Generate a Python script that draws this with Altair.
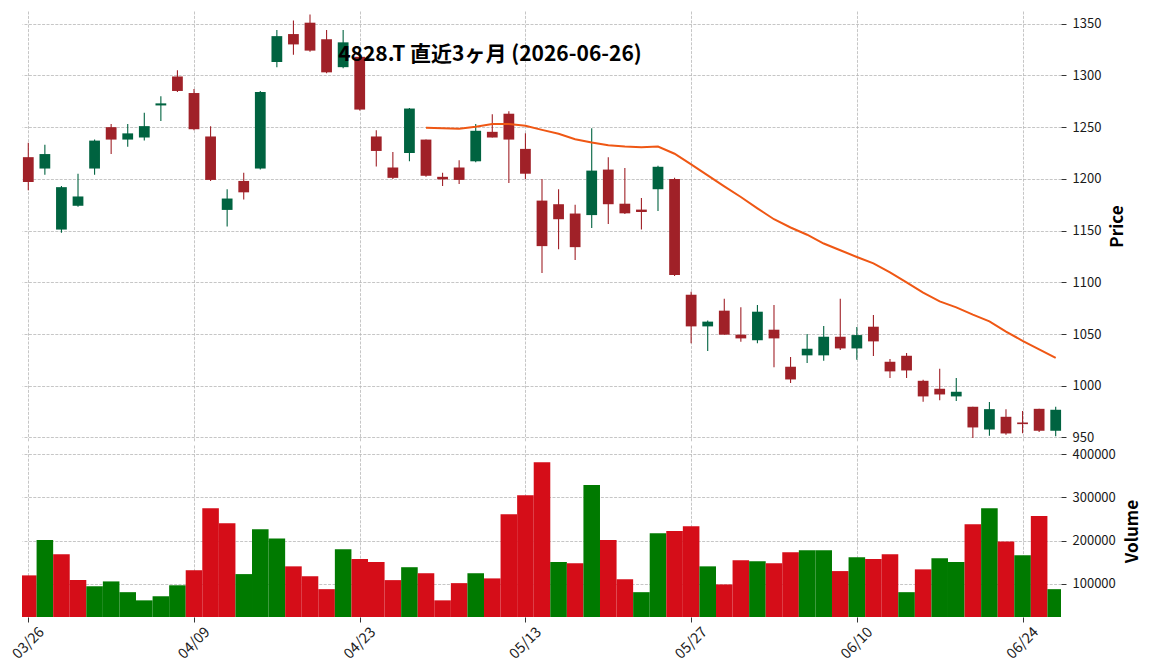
import json
import altair as alt
import pandas as pd

# ---------------- data ----------------
dates = ["03/26", "03/27", "03/30", "03/31", "04/01", "04/02", "04/03", "04/06", "04/07", "04/08",
         "04/09", "04/10", "04/13", "04/14", "04/15", "04/16", "04/17", "04/20", "04/21", "04/22",
         "04/23", "04/24", "04/27", "04/28", "04/30", "05/01", "05/07", "05/08", "05/11", "05/12",
         "05/13", "05/14", "05/15", "05/18", "05/19", "05/20", "05/21", "05/22", "05/25", "05/26",
         "05/27", "05/28", "05/29", "06/01", "06/02", "06/03", "06/04", "06/05", "06/08", "06/09",
         "06/10", "06/11", "06/12", "06/15", "06/16", "06/17", "06/18", "06/19", "06/22", "06/23",
         "06/24", "06/25", "06/26"]

opens = [1221, 1210, 1151, 1174, 1210, 1250, 1238, 1240, 1271, 1299,
         1283, 1241, 1170, 1198, 1210, 1313, 1340, 1351, 1335, 1308,
         1318, 1241, 1211, 1225, 1238, 1202, 1211, 1217, 1245.5, 1263,
         1229, 1179, 1175.5, 1166.5, 1165, 1209, 1176, 1170.3, 1190, 1200,
         1088, 1057.4, 1072.6, 1049.4, 1044, 1054.2, 1018.4, 1029.4, 1029.4, 1047.4,
         1036.1, 1057.1, 1023.2, 1029, 1004.8, 997.1, 989.7, 979.7, 957.7, 970,
         964.5, 977.7, 956.5]
highs = [1235, 1233, 1193, 1205, 1238, 1253, 1253, 1264, 1280, 1305,
         1287, 1251, 1190, 1206, 1285, 1344, 1353, 1359, 1344, 1344,
         1322, 1247, 1226, 1268.5, 1238, 1206, 1218, 1253, 1262.5, 1265.5,
         1244, 1200, 1190, 1175, 1249, 1221, 1210.5, 1181.5, 1212.7, 1201,
         1091, 1063, 1084, 1076, 1078, 1078, 1027.7, 1050, 1057.7, 1084,
         1056.8, 1068.4, 1025.8, 1031.6, 1005.8, 1016.5, 1007.4, 979.7, 984.2, 977.4,
         975.5, 977.7, 979.7]
lows = [1189, 1204, 1148, 1173, 1204, 1224, 1231, 1237, 1256, 1284,
        1247, 1198, 1154, 1180, 1209, 1308, 1320, 1323, 1302, 1307,
        1266, 1212, 1200, 1217, 1202, 1193, 1195, 1216, 1240, 1196,
        1200, 1109, 1132, 1121.5, 1152.5, 1156.5, 1166, 1151, 1169, 1106,
        1041, 1033.5, 1049.4, 1042.6, 1041, 1018, 1002.6, 1022, 1024.2, 1034.5,
        1025.2, 1028.7, 1007.4, 1007.4, 984.5, 986.1, 985.2, 949.4, 951.6, 952.6,
        954.2, 955.2, 951.3]
closes = [1197, 1224, 1192, 1183, 1237, 1238, 1244, 1251, 1273, 1285,
          1248, 1199, 1181, 1187, 1284, 1338, 1330, 1324, 1303, 1332,
          1267, 1227, 1201, 1268, 1203, 1199.5, 1199, 1246.5, 1240, 1238,
          1205, 1135, 1161, 1134, 1208, 1175.5, 1166.7, 1168, 1211.7, 1107,
          1057.4, 1062, 1049.4, 1045.8, 1071.6, 1045.8, 1006.1, 1035.8, 1047.4, 1036.1,
          1049, 1042.9, 1013.9, 1014.8, 989.7, 991.6, 994.2, 959.7, 977.4, 953.9,
          962.9, 956.5, 976.8]
volumes = [119000, 201000, 168000, 108000, 94000, 105000, 80000, 61000, 70500, 96000,
           131000, 275000, 240000, 122000, 226000, 205000, 140000, 117000, 87000, 180000,
           157000, 150000, 108000, 138000, 124000, 61000, 101000, 124000, 112000, 261000,
           305000, 382000, 150000, 147000, 329000, 201000, 110000, 80000, 217000, 222000,
           233000, 140000, 98000, 154000, 152000, 147000, 173000, 177500, 177500, 129000,
           161000, 157000, 168000, 80000, 133000, 159000, 150000, 238000, 275000, 198000,
           166000, 257000, 87000]
ma_first_index = 24
ma25 = [1249.5, 1249, 1248.5, 1250.5, 1253, 1253, 1251.3, 1247.4, 1243.6, 1238.4,
        1235.2, 1232.6, 1231.3, 1230.7, 1231.3, 1224.3, 1214, 1203.4, 1192.8, 1182.5,
        1171.5, 1161, 1153, 1146, 1137.5, 1131, 1124.5, 1118.4, 1109.7, 1100,
        1090, 1081.6, 1075.8, 1068.7, 1062.3, 1052.3, 1043.5, 1035.2, 1027]
price_ticks = [950, 1000, 1050, 1100, 1150, 1200, 1250, 1300, 1350]
volume_ticks = [100000, 200000, 300000, 400000]
x_ticks = [0, 10, 20, 30, 40, 50, 60]
title_text = "4828.T 直近3ヶ月 (2026-06-26)"

# ---------------- tables ----------------
n = len(dates)
idx = list(range(n))
df = pd.DataFrame({"i": idx, "date": dates, "open": opens, "high": highs,
                   "low": lows, "close": closes, "volume": volumes})
df["dir"] = ["up" if c >= o else "down" for o, c in zip(opens, closes)]
df["vdir"] = ["vdown"] + ["vup" if closes[k] >= closes[k - 1] else "vdown" for k in range(1, n)]
ma_df = pd.DataFrame({"i": idx[ma_first_index:], "ma": ma25})

FONT = "Noto Sans CJK JP"
W = 1039
H_PRICE = 430
H_VOL = 172
XDOM = [-0.38, 62.32]
PDOM = [946.6, 1362.3]
VDOM = [22300, 422000]

xscale = alt.Scale(domain=XDOM, nice=False, zero=False)
label_expr = json.dumps(dates) + "[datum.value]"

x_price_axis = alt.Axis(values=x_ticks, labels=False, ticks=False, domain=False, title=None, grid=True)
x_vol_axis = alt.Axis(values=x_ticks, labelExpr=label_expr, labelAngle=315, labelAlign="center",
                      labelBaseline="middle", labelPadding=21, labelFontSize=14.5,
                      title=None, grid=True, tickSize=5)

yprice = alt.Scale(domain=PDOM, nice=False, zero=False)
yprice_axis = alt.Axis(orient="right", values=price_ticks, format="d", title="Price", titleAngle=270,
                       titleBaseline="top", grid=True, titlePadding=9)

cand_color = alt.Color("dir:N", scale=alt.Scale(domain=["up", "down"], range=["#006340", "#a02128"]),
                       legend=None)
vol_color = alt.Color("vdir:N", scale=alt.Scale(domain=["vup", "vdown"], range=["#007a00", "#d50d18"]),
                      legend=None)

base = alt.Chart(df)

wicks = base.mark_rule(strokeWidth=1.1).encode(
    x=alt.X("i:Q", scale=xscale, axis=x_price_axis),
    y=alt.Y("low:Q", scale=yprice, axis=yprice_axis, title="Price"),
    y2="high:Q",
    color=cand_color,
)

bodies = base.transform_calculate(
    xa="datum.i - 0.325", xb="datum.i + 0.325"
).mark_rect().encode(
    x=alt.X("xa:Q", scale=xscale, axis=x_price_axis),
    x2="xb:Q",
    y=alt.Y("open:Q", scale=yprice, axis=yprice_axis, title="Price"),
    y2="close:Q",
    color=cand_color,
)

ma_line = alt.Chart(ma_df).mark_line(color="#ef5714", strokeWidth=2).encode(
    x=alt.X("i:Q", scale=xscale, axis=x_price_axis),
    y=alt.Y("ma:Q", scale=yprice, axis=yprice_axis, title="Price"),
)

title_mark = alt.Chart(pd.DataFrame({"t": [title_text]})).mark_text(
    font=FONT, fontSize=21, fontWeight="bold", color="#000000", align="center", baseline="middle"
).encode(text="t:N", x=alt.value(468), y=alt.value(44))

price_panel = alt.layer(wicks, bodies, ma_line, title_mark).properties(width=W, height=H_PRICE)

vol_panel = base.transform_calculate(
    xa="datum.i - 0.5", xb="datum.i + 0.5"
).mark_rect(clip=True).encode(
    x=alt.X("xa:Q", scale=xscale, axis=x_vol_axis),
    x2="xb:Q",
    y=alt.Y("volume:Q", scale=alt.Scale(domain=VDOM, nice=False, zero=False),
            axis=alt.Axis(orient="right", values=volume_ticks, format="d", title="Volume",
                          titleAngle=270, titleBaseline="top", grid=True, titlePadding=9)),
    y2=alt.value(H_VOL),
    color=vol_color,
).properties(width=W, height=H_VOL)

chart = alt.vconcat(price_panel, vol_panel, spacing=0).resolve_scale(
    color="independent"
).properties(
    padding={"left": 9, "top": 11, "right": 5, "bottom": 5}
).configure(
    font=FONT, background="white"
).configure_view(
    stroke=None
).configure_axis(
    labelFont=FONT, labelFontSize=13, labelColor="#1a1a1a",
    titleFont=FONT, titleFontSize=17, titleFontWeight="bold", titleColor="#000000",
    gridColor="#b8b8b8", gridDash=[3, 1.4], gridWidth=0.8,
    domain=False, tickColor="#333333", tickSize=5, tickWidth=1, labelPadding=6,
)

chart.save("out.html", embed_options={"renderer": "svg", "actions": False})
